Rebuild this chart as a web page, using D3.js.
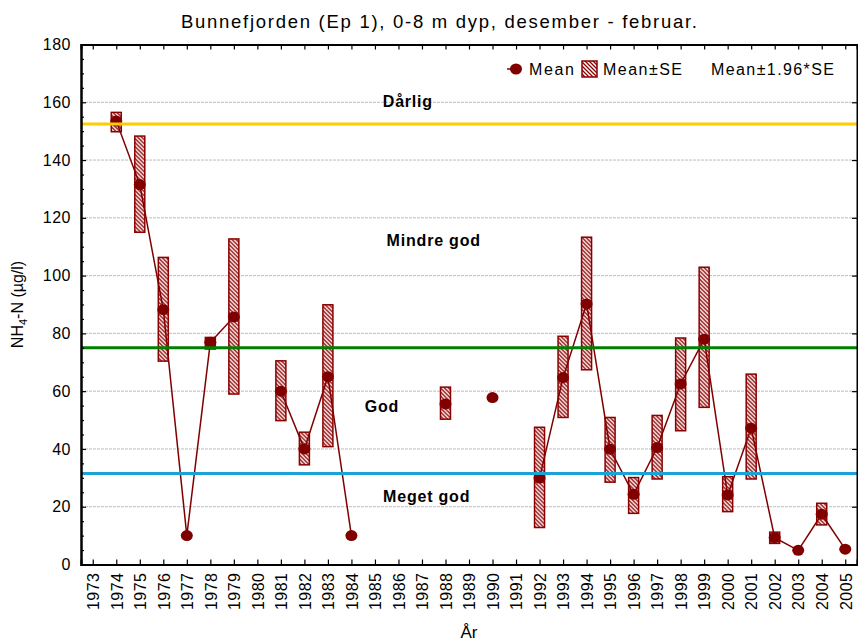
<!DOCTYPE html>
<html>
<head>
<meta charset="utf-8">
<script src="https://cdn.jsdelivr.net/npm/d3@7"></script>
<style>
  body { margin: 0; background: #fff; }
  text { font-family: Arial, "Liberation Sans", sans-serif; }
</style>
</head>
<body>
<div id="chart"></div>
<script>
// Data
var years = d3.range(1973, 2006);
var means = [null, 153.5, 131.5, 88.2, 10, 76.9, 85.7, null, 60, 40, 65, 10,
  null, null, null, 55.6, null, 57.8, null, 29.9, 64.7, 90.2, 39.9, 24.3, 40.5,
  62.5, 78, 24.1, 47.2, 9.3, 4.9, 17.4, 5.3];
var seLow = [null, 149.8, 115, 70.4, null, 74.6, 59, null, 49.8, 34.5, 40.8, null,
  null, null, null, 50.3, null, null, null, 12.8, 50.9, 67.4, 28.5, 17.7, 29.6,
  46.3, 54.4, 18.3, 29.6, 7.3, null, 13.7, null];
var seHigh = [null, 156.5, 148.3, 106.3, null, 78.6, 112.7, null, 70.5, 45.8, 89.9, null,
  null, null, null, 61.4, null, null, null, 47.5, 79, 113.3, 50.9, 30.1, 51.6,
  78.4, 102.9, 30.4, 65.9, 11.2, null, 21.2, null];

var yTicks = [0, 20, 40, 60, 80, 100, 120, 140, 160, 180];
var thresholds = [152.5, 75, 31.5];
var thresholdColors = ["#ffcc00", "#008000", "#1ba3d6"];
var classNames = ["Dårlig", "Mindre god", "God", "Meget god"];
var classYears = [1986.4, 1987.5, 1985.3, 1987.2];
var classValues = [158.2, 110.4, 52.9, 21.7];

var data = years.map(function(y, i) {
  return { year: y, mean: means[i], lo: seLow[i], hi: seHigh[i] };
});

var W = 858, H = 644;
var margin = {top: 44.5, right: 1, bottom: 79.5, left: 81};
var width = W - margin.left - margin.right,
    height = H - margin.top - margin.bottom;

var svg = d3.select("#chart").append("svg")
  .attr("width", W).attr("height", H);

// Hatch fill for the SE boxes
var defs = svg.append("defs");
var pat = defs.append("pattern")
  .attr("id", "hatch")
  .attr("patternUnits", "userSpaceOnUse")
  .attr("width", 4).attr("height", 4);
pat.append("rect").attr("width", 4).attr("height", 4).attr("fill", "#fff");
pat.append("path")
  .attr("d", "M-1,-1 L5,5 M3,-1 L5,1 M-1,3 L1,5")
  .attr("stroke", "#8b0000").attr("stroke-width", 1.3);

var g = svg.append("g")
  .attr("transform", "translate(" + margin.left + "," + margin.top + ")");

var x = d3.scaleLinear().domain([1972.5, 2005.5]).range([0, width]);
var y = d3.scaleLinear().domain([0, 180]).range([height, 0]);

// Title
svg.append("text")
  .attr("x", 439).attr("y", 28)
  .attr("text-anchor", "middle")
  .attr("font-size", 18.5)
  .attr("textLength", 516).attr("lengthAdjust", "spacing")
  .text("Bunnefjorden (Ep 1), 0-8 m dyp, desember - februar.");

// Gridlines
g.append("g").selectAll("line")
  .data(yTicks.filter(function(d) { return d > 0 && d < 180; }))
  .enter().append("line")
    .attr("x1", 0).attr("x2", width)
    .attr("y1", function(d) { return y(d); })
    .attr("y2", function(d) { return y(d); })
    .attr("stroke", "#bdbdbd")
    .attr("stroke-width", 1)
    .attr("stroke-dasharray", "3,1");

// SE boxes
var boxW = 10;
g.append("g").selectAll("rect")
  .data(data.filter(function(d) { return d.lo != null; }))
  .enter().append("rect")
    .attr("x", function(d) { return x(d.year) - boxW / 2; })
    .attr("y", function(d) { return y(d.hi); })
    .attr("width", boxW)
    .attr("height", function(d) { return y(d.lo) - y(d.hi); })
    .attr("fill", "url(#hatch)")
    .attr("stroke", "#8b0000")
    .attr("stroke-width", 1.5);

// Mean line, broken where a year is missing
var line = d3.line()
  .defined(function(d) { return d.mean != null; })
  .x(function(d) { return x(d.year); })
  .y(function(d) { return y(d.mean); });

g.append("path")
  .datum(data)
  .attr("d", line)
  .attr("fill", "none")
  .attr("stroke", "#800000")
  .attr("stroke-width", 1.5);

// Mean markers
g.append("g").selectAll("ellipse")
  .data(data.filter(function(d) { return d.mean != null; }))
  .enter().append("ellipse")
    .attr("cx", function(d) { return x(d.year); })
    .attr("cy", function(d) { return y(d.mean); })
    .attr("rx", 6).attr("ry", 5.5)
    .attr("fill", "#800000");

// Threshold lines
g.append("g").selectAll("line")
  .data(thresholds)
  .enter().append("line")
    .attr("x1", 0).attr("x2", width)
    .attr("y1", function(d) { return y(d); })
    .attr("y2", function(d) { return y(d); })
    .attr("stroke", function(d, i) { return thresholdColors[i]; })
    .attr("stroke-width", 3);

// Class labels
g.append("g").selectAll("text")
  .data(classNames)
  .enter().append("text")
    .attr("x", function(d, i) { return x(classYears[i]); })
    .attr("y", function(d, i) { return y(classValues[i]); })
    .attr("text-anchor", "middle")
    .attr("font-size", 16)
    .attr("font-weight", "bold")
    .attr("letter-spacing", 0.8)
    .text(function(d) { return d; });

// Axes
var axisLeft = d3.axisLeft(y).tickValues(yTicks).tickSize(-5).tickPadding(10);
g.append("g").attr("class", "y-axis").call(axisLeft);
var minor = d3.range(0, 181, 5).filter(function(d) { return d % 20 !== 0; });
g.append("g").attr("class", "y-axis").call(d3.axisLeft(y).tickValues(minor).tickSize(-3).tickFormat(""));
g.append("g").attr("class", "y-axis")
  .attr("transform", "translate(" + width + ",0)")
  .call(d3.axisRight(y).tickValues(yTicks).tickSize(-5).tickFormat(""));

var axisBottom = d3.axisBottom(x).tickValues(years).tickFormat(d3.format("d")).tickSize(-5);
var xa = g.append("g").attr("class", "x-axis")
  .attr("transform", "translate(0," + height + ")")
  .call(axisBottom);
xa.selectAll("text")
  .attr("transform", "rotate(-90)")
  .attr("x", -8).attr("y", 0).attr("dy", "0.36em")
  .style("text-anchor", "end");
g.append("g").attr("class", "x-axis")
  .call(d3.axisTop(x).tickValues(years).tickSize(-5).tickFormat(""));

g.selectAll(".domain").attr("stroke", "#000").attr("stroke-width", 2);
g.selectAll(".tick line").attr("stroke", "#000").attr("stroke-width", 1.2);
g.selectAll(".tick text").attr("font-size", 16).attr("fill", "#000")
  .attr("letter-spacing", 0.5);

// Axis titles
svg.append("text")
  .attr("transform", "translate(23," + (margin.top + height / 2) + ") rotate(-90)")
  .attr("text-anchor", "middle")
  .attr("font-size", 16)
  .call(function(t) {
    t.append("tspan").text("NH");
    t.append("tspan").attr("font-size", 11).attr("dy", 4).text("4");
    t.append("tspan").attr("dy", -4).text("-N (µg/l)");
  });

svg.append("text")
  .attr("x", margin.left + width / 2).attr("y", 638)
  .attr("text-anchor", "middle")
  .attr("font-size", 17)
  .text("År");

// Legend
var leg = svg.append("g");
leg.append("line").attr("x1", 507).attr("x2", 521).attr("y1", 69).attr("y2", 69)
  .attr("stroke", "#800000").attr("stroke-width", 1.5);
leg.append("ellipse").attr("cx", 516).attr("cy", 69).attr("rx", 6).attr("ry", 5.5)
  .attr("fill", "#800000");
leg.append("text").attr("x", 529).attr("y", 75).attr("font-size", 16)
  .attr("textLength", 45).attr("lengthAdjust", "spacing").text("Mean");
leg.append("rect").attr("x", 582).attr("y", 61).attr("width", 15).attr("height", 16)
  .attr("fill", "url(#hatch)").attr("stroke", "#8b0000").attr("stroke-width", 1.5);
leg.append("text").attr("x", 603).attr("y", 75).attr("font-size", 16)
  .attr("textLength", 79).attr("lengthAdjust", "spacing").text("Mean±SE");
leg.append("text").attr("x", 711).attr("y", 75).attr("font-size", 16)
  .attr("textLength", 123).attr("lengthAdjust", "spacing").text("Mean±1.96*SE");
</script>
</body>
</html>
